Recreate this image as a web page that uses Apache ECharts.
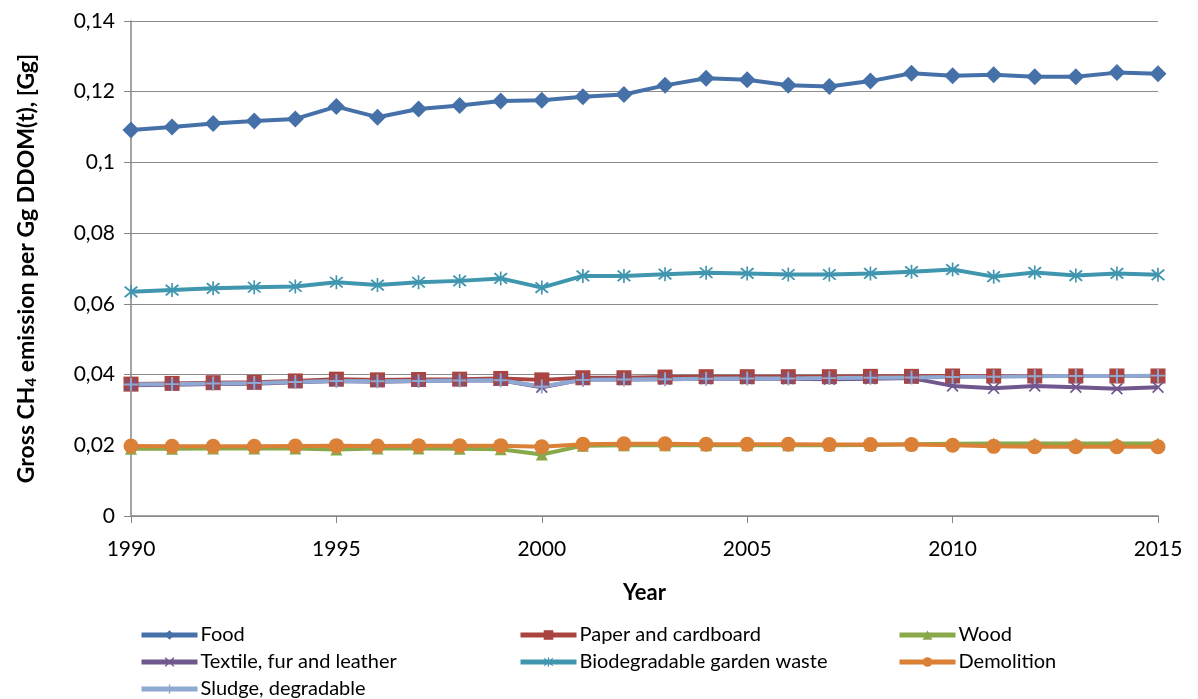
<!DOCTYPE html>
<html>
<head>
<meta charset="utf-8">
<script src="https://cdn.jsdelivr.net/npm/echarts@6/dist/echarts.min.js"></script>
<style>
  html, body { margin: 0; padding: 0; background: #fff; }
  #chart { width: 1198px; height: 699px; }
</style>
</head>
<body>
<div id="chart"></div>
<script>
var years = [1990, 1991, 1992, 1993, 1994, 1995, 1996, 1997, 1998, 1999, 2000, 2001, 2002,
  2003, 2004, 2005, 2006, 2007, 2008, 2009, 2010, 2011, 2012, 2013, 2014, 2015];

var food = [0.1092, 0.1100, 0.1110, 0.1117, 0.1123, 0.1158, 0.1128, 0.1151, 0.1161, 0.1174, 0.1176, 0.1186, 0.1192,
  0.1218, 0.1238, 0.1234, 0.1218, 0.1215, 0.1230, 0.1252, 0.1245, 0.1248, 0.1242, 0.1242, 0.1254, 0.1251];
var paper = [0.0373, 0.0375, 0.0377, 0.0378, 0.0382, 0.0387, 0.0385, 0.0386, 0.0387, 0.0389, 0.0385, 0.0391, 0.0391,
  0.0393, 0.0394, 0.0394, 0.0394, 0.0394, 0.0395, 0.0395, 0.0396, 0.0396, 0.0396, 0.0396, 0.0396, 0.0396];
var wood = [0.0190, 0.0190, 0.0191, 0.0191, 0.0191, 0.0188, 0.0191, 0.0191, 0.0190, 0.0189, 0.0174, 0.0199, 0.0200,
  0.0200, 0.0200, 0.0200, 0.0200, 0.0200, 0.0201, 0.0203, 0.0204, 0.0205, 0.0205, 0.0205, 0.0205, 0.0205];
var textile = [0.0370, 0.0371, 0.0373, 0.0374, 0.0378, 0.0382, 0.0380, 0.0382, 0.0383, 0.0384, 0.0364, 0.0386, 0.0386,
  0.0387, 0.0388, 0.0388, 0.0388, 0.0387, 0.0388, 0.0390, 0.0368, 0.0361, 0.0368, 0.0364, 0.0360, 0.0364];
var garden = [0.0634, 0.0639, 0.0644, 0.0647, 0.0649, 0.0661, 0.0653, 0.0661, 0.0665, 0.0672, 0.0646, 0.0679, 0.0679,
  0.0684, 0.0688, 0.0686, 0.0683, 0.0683, 0.0686, 0.0691, 0.0697, 0.0677, 0.0689, 0.0680, 0.0686, 0.0682];
var demolition = [0.0198, 0.0197, 0.0197, 0.0197, 0.0198, 0.0199, 0.0198, 0.0199, 0.0199, 0.0199, 0.0196, 0.0203, 0.0204,
  0.0204, 0.0203, 0.0203, 0.0203, 0.0202, 0.0202, 0.0202, 0.0200, 0.0197, 0.0196, 0.0196, 0.0196, 0.0196];
var sludge = [0.0372, 0.0373, 0.0375, 0.0376, 0.0379, 0.0382, 0.0381, 0.0382, 0.0383, 0.0384, 0.0366, 0.0385, 0.0386,
  0.0387, 0.0388, 0.0389, 0.0389, 0.0390, 0.0391, 0.0392, 0.0393, 0.0394, 0.0395, 0.0396, 0.0396, 0.0397];

var names = ['Food', 'Paper and cardboard', 'Wood', 'Textile, fur and leather',
  'Biodegradable garden waste', 'Demolition', 'Sludge, degradable'];
var yTicks = [0, 0.02, 0.04, 0.06, 0.08, 0.1, 0.12, 0.14];

var FONT = 'Lato, "Open Sans", sans-serif';

// marker shapes like excel
var xPath = 'path://M0,1L1,0L10,9L9,10Z M9,0L10,1L1,10L0,9Z';
var starPath = 'path://M0,1L1,0L10,9L9,10Z M9,0L10,1L1,10L0,9Z M4.4,-1L5.6,-1L5.6,11L4.4,11Z';
var plusPath = 'path://M4.3,0L5.7,0L5.7,10L4.3,10Z M0,4.3L10,4.3L10,5.7L0,5.7Z';

function pairs(vals) {
  return years.map(function (y, i) { return [y, vals[i]]; });
}

function mkSeries(name, vals, color, symbol, size) {
  return {
    name: name,
    type: 'line',
    data: pairs(vals),
    symbol: symbol,
    symbolSize: size,
    showAllSymbol: true,
    lineStyle: { color: color, width: 4 },
    itemStyle: { color: color },
    emphasis: { disabled: true },
    animation: false
  };
}

var series = [
  mkSeries(names[0], food, '#4571A8', 'diamond', 17),
  mkSeries(names[1], paper, '#A94441', 'rect', 15),
  mkSeries(names[2], wood, '#88A84A', 'triangle', 12),
  mkSeries(names[3], textile, '#70578E', xPath, 12),
  mkSeries(names[4], garden, '#4096AE', starPath, 14),
  mkSeries(names[5], demolition, '#DA8037', 'circle', 15),
  mkSeries(names[6], sludge, '#8FA9D2', plusPath, 14)
];

// 3 columns of legend entries
var legPos = [[139, 625], [518, 625], [897, 625], [139, 652], [518, 652], [897, 652], [139, 679]];
var legends = names.map(function (n, i) {
  return {
    data: [n],
    left: legPos[i][0],
    top: legPos[i][1],
    padding: 0,
    itemWidth: 56,
    itemHeight: 12,
    itemGap: 0,
    selectedMode: false,
    lineStyle: { width: 5 },
    textStyle: { fontFamily: FONT, fontSize: 20, color: '#000', padding: [0, 0, 0, -2] }
  };
});

var option = {
  backgroundColor: '#fff',
  animation: false,
  legend: legends,
  grid: { left: 131, right: 40, top: 21, bottom: 183 },
  xAxis: {
    type: 'value',
    min: 1990,
    max: 2015,
    interval: 5,
    name: 'Year',
    nameLocation: 'middle',
    nameGap: 66,
    nameTextStyle: { fontFamily: FONT, fontSize: 22, fontWeight: 'bold', color: '#000' },
    axisLine: { lineStyle: { color: '#868686', width: 1.5 } },
    axisTick: { show: true, length: 7, lineStyle: { color: '#868686' } },
    splitLine: { show: false },
    axisLabel: {
      fontFamily: FONT, fontSize: 21, color: '#000', margin: 23,
      formatter: function (v) { return String(Math.round(v)); }
    }
  },
  yAxis: {
    type: 'value',
    min: 0,
    max: 0.14,
    interval: 0.02,
    name: 'Gross CH{sub|4} emission per Gg DDOM(t), [Gg]',
    nameLocation: 'middle',
    nameRotate: 90,
    nameGap: 92,
    nameTextStyle: {
      fontFamily: FONT, fontSize: 23, fontWeight: 'bold', color: '#000',
      rich: {
        sub: { fontFamily: FONT, fontSize: 15, fontWeight: 'bold', color: '#000', verticalAlign: 'bottom', padding: [9, 0, 0, 0] }
      }
    },
    axisLine: { show: true, lineStyle: { color: '#868686', width: 1.5 } },
    axisTick: { show: true, length: 7, lineStyle: { color: '#868686' } },
    splitLine: { lineStyle: { color: '#8C8C8C', width: 1.2 } },
    axisLabel: {
      fontFamily: FONT, fontSize: 21, color: '#000', margin: 16,
      formatter: function (v) {
        var t = yTicks.reduce(function (a, b) { return Math.abs(b - v) < Math.abs(a - v) ? b : a; });
        return String(t).replace('.', ',');
      }
    }
  },
  series: series
};

var chart = echarts.init(document.getElementById('chart'));
chart.setOption(option);
</script>
</body>
</html>
